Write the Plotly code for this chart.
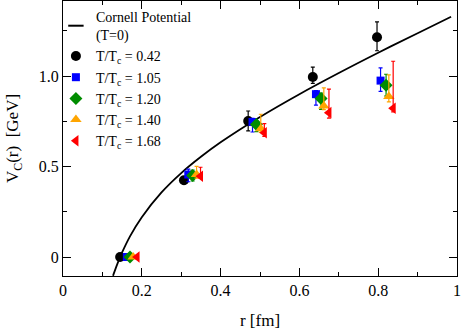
import plotly.graph_objects as go

# Cornell potential curve
cornell_r = [0.127, 0.13, 0.14, 0.15, 0.17, 0.20, 0.25, 0.30, 0.35, 0.40, 0.50, 0.60, 0.70, 0.80, 0.90, 0.985]
cornell_v = [-0.104, -0.085, -0.027, 0.025, 0.114, 0.220, 0.357, 0.464, 0.554, 0.634, 0.774, 0.900, 1.017, 1.129, 1.237, 1.328]

# Lattice data
r_042 = [0.145, 0.307, 0.470, 0.634, 0.797]
v_042 = [0.0, 0.424, 0.752, 0.995, 1.215]
ep_042 = [0.0, 0.02, 0.055, 0.055, 0.085]
em_042 = [0.0, 0.02, 0.055, 0.035, 0.075]

r_105 = [0.162, 0.318, 0.481, 0.642, 0.806]
v_105 = [0.0, 0.456, 0.746, 0.900, 0.975]
ep_105 = [0.0, 0.03, 0.02, 0.02, 0.07]
em_105 = [0.0, 0.04, 0.055, 0.06, 0.06]

r_120 = [0.170, 0.329, 0.491, 0.655, 0.820]
v_120 = [0.0, 0.450, 0.733, 0.876, 0.950]
ep_120 = [0.0, 0.03, 0.02, 0.03, 0.06]
em_120 = [0.0, 0.03, 0.04, 0.06, 0.06]

r_140 = [0.178, 0.339, 0.502, 0.662, 0.827]
v_140 = [0.0, 0.456, 0.709, 0.835, 0.887]
ep_140 = [0.0, 0.045, 0.08, 0.10, 0.12]
em_140 = [0.0, 0.02, 0.02, 0.02, 0.03]

r_168 = [0.188, 0.349, 0.511, 0.675, 0.838]
v_168 = [0.0, 0.446, 0.687, 0.798, 0.822]
ep_168 = [0.0, 0.05, 0.05, 0.13, 0.26]
em_168 = [0.0, 0.01, 0.02, 0.03, 0.02]

x_tickvals = [0, 0.2, 0.4, 0.6, 0.8, 1.0]
x_ticktext = ["0", "0.2", "0.4", "0.6", "0.8", "1"]
y_tickvals = [0, 0.5, 1.0]
y_ticktext = ["0", "0.5", "1.0"]

FONT = "Liberation Serif, Times New Roman, DejaVu Serif, serif"

fig = go.Figure()

fig.add_trace(go.Scatter(x=cornell_r, y=cornell_v, mode="lines", line=dict(color="black", width=1.8, shape="spline"),
                         showlegend=False, hoverinfo="skip"))
fig.add_trace(go.Scatter(x=[None], y=[None], mode="markers", name="Cornell Potential<br>(T=0)",
                         marker=dict(symbol="line-ew", size=11, line=dict(color="black", width=2))))

series = [
    ("T/T<sub>c</sub> = 0.42", r_042, v_042, ep_042, em_042, "black", "circle", 10),
    ("T/T<sub>c</sub> = 1.05", r_105, v_105, ep_105, em_105, "#0000ff", "square", 8),
    ("T/T<sub>c</sub> = 1.20", r_120, v_120, ep_120, em_120, "#008c00", "diamond", 10),
    ("T/T<sub>c</sub> = 1.40", r_140, v_140, ep_140, em_140, "#ffa500", "triangle-up", 10),
    ("T/T<sub>c</sub> = 1.68", r_168, v_168, ep_168, em_168, "#ff0000", "triangle-left", 10),
]
for name, xs, ys, ep, em, col, sym, sz in series:
    fig.add_trace(go.Scatter(
        x=xs, y=ys, mode="markers", name=name,
        marker=dict(color=col, symbol=sym, size=sz, line=dict(width=0)),
        error_y=dict(type="data", symmetric=False, array=ep, arrayminus=em,
                     color=col, thickness=1.2, width=2),
    ))

axis_common = dict(
    showline=True, linecolor="black", linewidth=1.2, mirror="allticks",
    ticks="inside", ticklen=8, tickwidth=1, tickcolor="black",
    showgrid=False, zeroline=False, automargin=False,
    tickfont=dict(family=FONT, size=16, color="black"),
)

fig.update_xaxes(range=[0, 1], tickvals=x_tickvals, ticktext=x_ticktext,
                 minor=dict(ticks="inside", ticklen=4, dtick=0.1, tickcolor="black", showgrid=False),
                 title=dict(text="r [fm]", font=dict(family=FONT, size=17, color="black")),
                 **axis_common)
fig.update_yaxes(range=[-0.105, 1.415], tickvals=y_tickvals, ticktext=y_ticktext,
                 minor=dict(ticks="inside", ticklen=4, dtick=0.25, tick0=0, tickcolor="black", showgrid=False),
                 title=dict(text="V<sub>C</sub>(r)  [GeV]", font=dict(family=FONT, size=17, color="black")),
                 **axis_common)

fig.update_layout(
    width=463, height=332,
    margin=dict(l=63, r=6, t=1, b=56, autoexpand=False),
    plot_bgcolor="white", paper_bgcolor="white",
    font=dict(family=FONT, color="black"),
    legend=dict(x=-0.018, y=1.0, xanchor="left", yanchor="top",
                bgcolor="rgba(0,0,0,0)", font=dict(family=FONT, size=14, color="black"),
                itemwidth=30, tracegroupgap=0),
)

fig.write_html("out.html", config={"displayModeBar": False},
               post_script="document.body.style.margin='0';document.body.style.overflow='hidden';")
